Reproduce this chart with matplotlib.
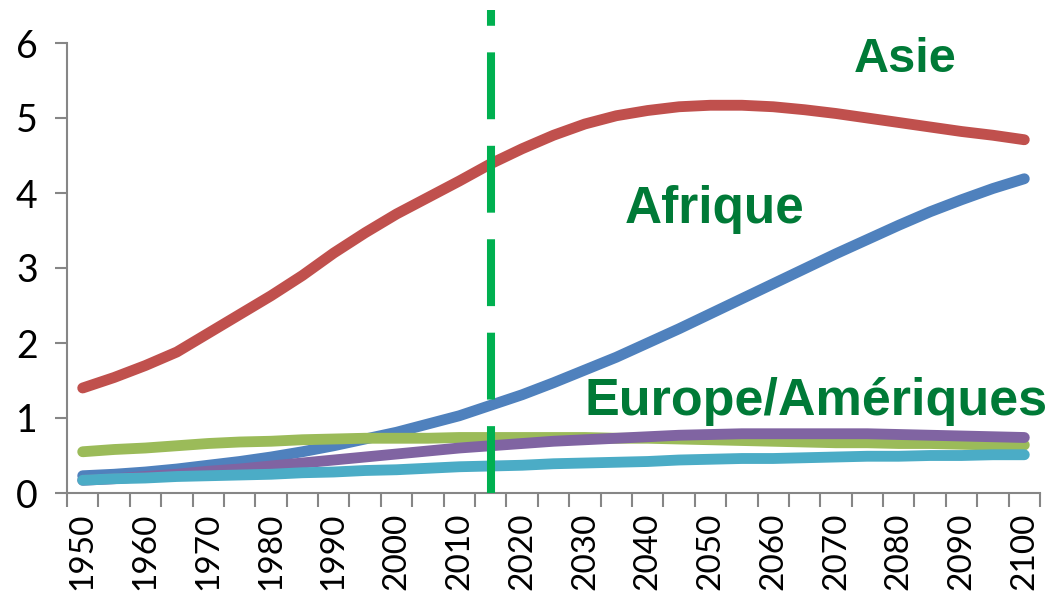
import matplotlib
matplotlib.use("Agg")
import matplotlib.pyplot as plt
import numpy as np

years = list(range(1950, 2101, 5))
afrique = [0.23, 0.25, 0.28, 0.32, 0.37, 0.42, 0.48, 0.55, 0.63, 0.72, 0.81, 0.92,
           1.03, 1.17, 1.31, 1.47, 1.64, 1.81, 2.00, 2.19, 2.39, 2.59, 2.79, 2.99,
           3.19, 3.38, 3.57, 3.75, 3.91, 4.06, 4.19]
asie = [1.40, 1.54, 1.70, 1.88, 2.13, 2.38, 2.63, 2.90, 3.20, 3.47, 3.72, 3.94,
        4.16, 4.39, 4.59, 4.77, 4.92, 5.03, 5.10, 5.15, 5.17, 5.17, 5.15, 5.11,
        5.06, 5.00, 4.94, 4.88, 4.82, 4.77, 4.71]
europe = [0.55, 0.58, 0.60, 0.63, 0.66, 0.68, 0.69, 0.71, 0.72, 0.73, 0.73, 0.73,
          0.74, 0.74, 0.74, 0.74, 0.74, 0.73, 0.73, 0.72, 0.71, 0.70, 0.69, 0.68,
          0.67, 0.67, 0.66, 0.66, 0.65, 0.64, 0.64]
amerique_latine = [0.17, 0.19, 0.22, 0.25, 0.29, 0.32, 0.36, 0.40, 0.44, 0.48, 0.52, 0.56,
                   0.60, 0.63, 0.66, 0.69, 0.71, 0.73, 0.75, 0.77, 0.78, 0.79, 0.79, 0.79,
                   0.79, 0.79, 0.78, 0.77, 0.76, 0.75, 0.74]
amerique_nord = [0.17, 0.19, 0.20, 0.22, 0.23, 0.24, 0.25, 0.27, 0.28, 0.30, 0.31, 0.33,
                 0.35, 0.36, 0.37, 0.39, 0.40, 0.41, 0.42, 0.44, 0.45, 0.46, 0.46, 0.47,
                 0.48, 0.49, 0.49, 0.50, 0.50, 0.51, 0.51]
today_year = 2015
label_years = list(range(1950, 2101, 10))
y_ticks = [0, 1, 2, 3, 4, 5, 6]

fig = plt.figure(figsize=(10.56, 5.95), dpi=100)
ax = fig.add_axes([67/1056, 1-493/595, (1040-67)/1056, (493-43)/595])

series = [
    (afrique, "#4F81BD"),
    (asie, "#C0504D"),
    (europe, "#9BBB59"),
    (amerique_latine, "#8064A2"),
    (amerique_nord, "#4BACC6"),
]
for vals, col in series:
    ax.plot(years, vals, color=col, lw=7.8, solid_capstyle="round",
            solid_joinstyle="round", zorder=3)

ln, = ax.plot([today_year, today_year], [0, 6.44], color="#00B050", lw=5.8,
              clip_on=False, zorder=4, solid_capstyle="butt")
ln.set_dashes((8.3, 3.3))
ln.set_dash_capstyle("butt")

ax.set_xlim(1947.5, 2102.5)
ax.set_ylim(0, 6)

ax.set_xticks([1947.5 + 5*k for k in range(32)])
ax.set_xticklabels([])
ax.set_xticks(label_years, minor=True)
ax.set_xticklabels([str(y) for y in label_years], minor=True, rotation=90,
                   fontsize=24, family="Lato")
ax.tick_params(axis="x", which="minor", length=0, pad=14)
ax.tick_params(axis="x", which="major", length=10, width=1.5, color="#868686")

ax.set_yticks(y_ticks)
ax.set_yticklabels([str(v) for v in y_ticks], fontsize=27, family="Lato")
ax.tick_params(axis="y", length=9, width=1.5, color="#868686", pad=12)

for s in ["top", "right"]:
    ax.spines[s].set_visible(False)
for s in ["left", "bottom"]:
    ax.spines[s].set_color("#868686")
    ax.spines[s].set_linewidth(1.5)

txt_color = "#007A37"
ax.text(2072.9, 5.61, "Asie", color=txt_color, fontsize=35, fontweight="bold",
        family="Liberation Sans", ha="left", va="baseline")
ax.text(2036.3, 3.60, "Afrique", color=txt_color, fontsize=37, fontweight="bold",
        family="Liberation Sans", ha="left", va="baseline")
ax.text(2029.9, 1.04, "Europe/Amériques", color=txt_color, fontsize=37.5, fontweight="bold",
        family="Liberation Sans", ha="left", va="baseline", zorder=5)

fig.savefig("out.png", dpi=100)
